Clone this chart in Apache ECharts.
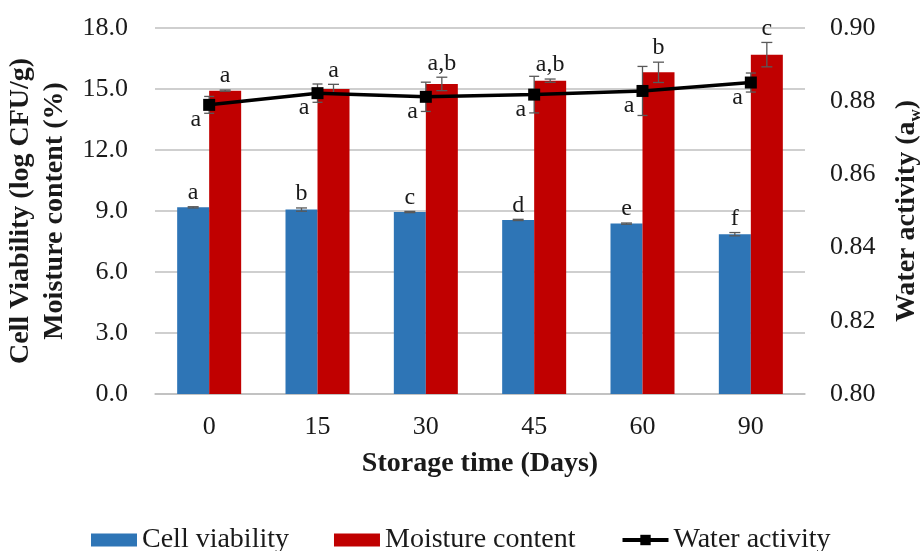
<!DOCTYPE html>
<html>
<head>
<meta charset="utf-8">
<script src="https://cdn.jsdelivr.net/npm/echarts@6/dist/echarts.min.js"></script>
<style>
html,body{margin:0;padding:0;background:#fff;}
#chart{width:922px;height:551px;}
</style>
</head>
<body>
<div id="chart"></div>
<script>
// ---- Data ----
var categories = ['0', '15', '30', '45', '60', '90'];
var cellViability = [9.18, 9.07, 8.95, 8.56, 8.38, 7.86];
var cellViabilitySD = [0.03, 0.08, 0.03, 0.03, 0.03, 0.08];
var cellViabilityLetters = ['a', 'b', 'c', 'd', 'e', 'f'];
var moisture = [14.92, 15.00, 15.25, 15.41, 15.82, 16.69];
var moistureSD = [0.03, 0.23, 0.33, 0.08, 0.50, 0.60];
var moistureLetters = ['a', 'a', 'a,b', 'a,b', 'b', 'c'];
var waterActivity = [0.8790, 0.8822, 0.8812, 0.8818, 0.8828, 0.8851];
var waterActivitySD = [0.0023, 0.0025, 0.0040, 0.0050, 0.0067, 0.0026];
var waterActivityLetters = ['a', 'a', 'a', 'a', 'a', 'a'];
var leftTicks = {min: 0, max: 18, interval: 3};
var rightTicks = {min: 0.80, max: 0.90, interval: 0.02};

var FONT = "'Liberation Serif','Times New Roman',serif";
var BAR_W = 32;
var ERR_COLOR = '#595959';

var chart = echarts.init(document.getElementById('chart'), null, {renderer: 'canvas'});

function errorBarSeries(name, values, sds, letters, offset, yAxisIndex, capW, letterMode, z) {
  var data = values.map(function (v, i) { return [i, v, sds[i]]; });
  return {
    type: 'custom',
    name: name,
    yAxisIndex: yAxisIndex,
    z: z,
    silent: true,
    data: data,
    encode: {x: 0, y: 1},
    renderItem: function (params, api) {
      var idx = api.value(0);
      var v = api.value(1);
      var sd = api.value(2);
      var letter = letters[params.dataIndex];
      var c = api.coord([idx, v]);
      var hi = api.coord([idx, v + sd]);
      var lo = api.coord([idx, v - sd]);
      var x = c[0] + offset;
      var st = {stroke: ERR_COLOR, lineWidth: 1.3};
      var children = [
        {type: 'line', shape: {x1: x, y1: hi[1], x2: x, y2: lo[1]}, style: st},
        {type: 'line', shape: {x1: x - capW / 2, y1: hi[1], x2: x + capW / 2, y2: hi[1]}, style: st},
        {type: 'line', shape: {x1: x - capW / 2, y1: lo[1], x2: x + capW / 2, y2: lo[1]}, style: st}
      ];
      if (letterMode === 'top') {
        children.push({type: 'text', style: {text: letter, x: x, y: hi[1] - 2, textAlign: 'center', textVerticalAlign: 'bottom', font: '24px ' + FONT, fill: '#1a1a1a'}});
      } else if (letterMode === 'leftBelow') {
        children.push({type: 'text', style: {text: letter, x: x - 8, y: c[1] + 15, textAlign: 'right', textVerticalAlign: 'middle', font: '24px ' + FONT, fill: '#1a1a1a'}});
      }
      return {type: 'group', children: children};
    }
  };
}

var option = {
  animation: false,
  backgroundColor: '#ffffff',
  textStyle: {fontFamily: FONT},
  grid: {left: 155, right: 117, top: 28, bottom: 157, containLabel: false, outerBoundsMode: 'none'},
  legend: {
    left: 86,
    top: 521,
    itemGap: 45,
    itemWidth: 46,
    itemHeight: 13,
    textStyle: {fontFamily: FONT, fontSize: 28, color: '#1a1a1a'},
    data: [
      {name: 'Cell viability', icon: 'rect'},
      {name: 'Moisture content', icon: 'rect'},
      {name: 'Water activity', itemStyle: {color: '#000'}, lineStyle: {width: 4, color: '#000'}}
    ]
  },
  xAxis: {
    type: 'category',
    data: categories,
    axisTick: {show: false},
    axisLine: {show: true, lineStyle: {color: '#bfbfbf', width: 1.5}},
    axisLabel: {fontFamily: FONT, fontSize: 26, color: '#1a1a1a', margin: 20},
    name: 'Storage time (Days)',
    nameLocation: 'middle',
    nameGap: 56,
    nameTextStyle: {fontFamily: FONT, fontSize: 28, fontWeight: 'bold', color: '#1a1a1a'}
  },
  yAxis: [
    {
      type: 'value',
      min: leftTicks.min, max: leftTicks.max, interval: leftTicks.interval,
      axisLine: {show: false},
      axisTick: {show: false},
      splitLine: {show: true, lineStyle: {color: '#bfbfbf', width: 1.5}},
      axisLabel: {fontFamily: FONT, fontSize: 26, color: '#1a1a1a', margin: 27,
        formatter: function (v) { return v.toFixed(1); }},
      name: 'Cell Viability (log CFU/g)\nMoisture content (%)',
      nameLocation: 'middle',
      nameRotate: 90,
      nameGap: 78,
      nameTextStyle: {fontFamily: FONT, fontSize: 28, fontWeight: 'bold', color: '#1a1a1a', lineHeight: 34}
    },
    {
      type: 'value',
      position: 'right',
      min: rightTicks.min, max: rightTicks.max, interval: rightTicks.interval,
      axisLine: {show: false},
      axisTick: {show: false},
      splitLine: {show: false},
      axisLabel: {fontFamily: FONT, fontSize: 26, color: '#1a1a1a', margin: 25,
        formatter: function (v) { return v.toFixed(2); }},
      name: 'Water activity (a{sub|w})',
      nameLocation: 'middle',
      nameRotate: 90,
      nameGap: 85,
      nameTextStyle: {fontFamily: FONT, fontSize: 28, fontWeight: 'bold', color: '#1a1a1a', lineHeight: 34,
        rich: {sub: {fontFamily: FONT, fontSize: 17, fontWeight: 'bold', color: '#1a1a1a', verticalAlign: 'bottom', lineHeight: 34}}}
    }
  ],
  series: [
    {
      name: 'Cell viability',
      type: 'bar',
      yAxisIndex: 0,
      barWidth: BAR_W,
      barGap: '0%',
      itemStyle: {color: '#2e75b6'},
      z: 2,
      data: cellViability
    },
    {
      name: 'Moisture content',
      type: 'bar',
      yAxisIndex: 0,
      barWidth: BAR_W,
      barGap: '0%',
      itemStyle: {color: '#c00000'},
      z: 2,
      data: moisture
    },
    errorBarSeries('cvErr', cellViability, cellViabilitySD, cellViabilityLetters, -BAR_W / 2, 0, 11, 'top', 3),
    errorBarSeries('mcErr', moisture, moistureSD, moistureLetters, BAR_W / 2, 0, 11, 'top', 3),
    errorBarSeries('awErr', waterActivity, waterActivitySD, waterActivityLetters, 0, 1, 10, 'leftBelow', 4),
    {
      name: 'Water activity',
      type: 'line',
      yAxisIndex: 1,
      symbol: 'rect',
      symbolSize: 12,
      z: 5,
      itemStyle: {color: '#000000'},
      lineStyle: {color: '#000000', width: 3.5},
      data: waterActivity
    }
  ]
};
chart.setOption(option);
</script>
</body>
</html>
